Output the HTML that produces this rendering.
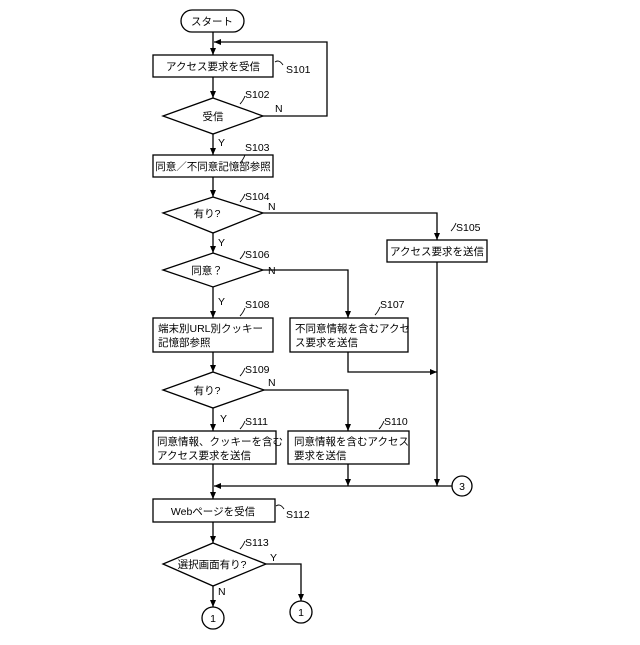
<!DOCTYPE html>
<html><head><meta charset="utf-8"><style>body{margin:0;background:#fff}</style></head><body>
<svg width="640" height="640" xmlns="http://www.w3.org/2000/svg" font-family="Liberation Sans, Noto Sans CJK JP, sans-serif" font-size="10.5">
<defs><marker id="a" markerWidth="8" markerHeight="8" refX="7" refY="4" orient="auto" markerUnits="userSpaceOnUse"><path d="M0,1 L7,4 L0,7 Z" fill="#000"/></marker></defs>
<g fill="none" stroke="#000" stroke-width="1.3">
<rect x="181" y="10" width="63" height="22" rx="11"/>
<rect x="153" y="55" width="120" height="22"/>
<polygon points="213,98 263,116 213,134 163,116"/>
<rect x="153" y="155" width="120" height="22"/>
<polygon points="213,197 263,213 213,233 163,213"/>
<rect x="387" y="240" width="100" height="22"/>
<polygon points="213,253 263,270 213,287 163,270"/>
<rect x="153" y="318" width="120" height="34"/>
<rect x="290" y="318" width="118" height="34"/>
<polygon points="213,372 264,390 213,408 163,390"/>
<rect x="153" y="431" width="123" height="33"/>
<rect x="288" y="431" width="121" height="33"/>
<circle cx="462" cy="486" r="10"/>
<rect x="153" y="499" width="122" height="23"/>
<polygon points="213,543 266,564 213,586 163,564"/>
<circle cx="213" cy="618" r="11"/>
<circle cx="301" cy="612" r="11"/>
<line x1="213" y1="32" x2="213" y2="55" marker-end="url(#a)"/>
<polyline points="263,116 327,116 327,42 214,42" marker-end="url(#a)"/>
<line x1="213" y1="77" x2="213" y2="98" marker-end="url(#a)"/>
<line x1="213" y1="134" x2="213" y2="155" marker-end="url(#a)"/>
<line x1="213" y1="177" x2="213" y2="197" marker-end="url(#a)"/>
<polyline points="263,213 437,213 437,240" marker-end="url(#a)"/>
<line x1="213" y1="233" x2="213" y2="253" marker-end="url(#a)"/>
<polyline points="263,270 348,270 348,318" marker-end="url(#a)"/>
<line x1="213" y1="287" x2="213" y2="318" marker-end="url(#a)"/>
<line x1="213" y1="352" x2="213" y2="372" marker-end="url(#a)"/>
<polyline points="348,352 348,372 437,372" marker-end="url(#a)"/>
<polyline points="263,390 348,390 348,431" marker-end="url(#a)"/>
<line x1="213" y1="408" x2="213" y2="431" marker-end="url(#a)"/>
<line x1="437" y1="262" x2="437" y2="486" marker-end="url(#a)"/>
<line x1="348" y1="464" x2="348" y2="486" marker-end="url(#a)"/>
<line x1="452" y1="486" x2="214" y2="486" marker-end="url(#a)"/>
<line x1="213" y1="464" x2="213" y2="499" marker-end="url(#a)"/>
<line x1="213" y1="522" x2="213" y2="543" marker-end="url(#a)"/>
<line x1="213" y1="586" x2="213" y2="607" marker-end="url(#a)"/>
<polyline points="266,564 301,564 301,601" marker-end="url(#a)"/>
<path d="M275,62 q4,-3 8,3 M240,104 q3,-3 5,-8 M240,163 q3,-3 5,-8 M240,202 q3,-3 5,-8 M451,231 q3,-3 5,-8 M240,259 q3,-3 5,-8 M240,316 q3,-3 5,-8 M375,315 q3,-3 5,-8 M240,376 q3,-3 5,-8 M240,429 q3,-3 5,-8 M379,429 q3,-3 5,-8 M276,506 q4,-3 8,3 M240,549 q3,-3 5,-8" stroke-width="0.9"/>
</g>
<g fill="#000">
<text x="212" y="25" text-anchor="middle">スタート</text>
<text x="213" y="70" text-anchor="middle">アクセス要求を受信</text>
<text x="213" y="120" text-anchor="middle">受信</text>
<text x="213" y="170" text-anchor="middle">同意／不同意記憶部参照</text>
<text x="207" y="217" text-anchor="middle">有り?</text>
<text x="437" y="255" text-anchor="middle">アクセス要求を送信</text>
<text x="207" y="274" text-anchor="middle">同意？</text>
<text x="158" y="332">端末別URL別クッキー</text><text x="158" y="346">記憶部参照</text>
<text x="295" y="332">不同意情報を含むアクセ</text><text x="295" y="346">ス要求を送信</text>
<text x="207" y="394" text-anchor="middle">有り?</text>
<text x="157" y="445">同意情報、クッキーを含む</text><text x="157" y="459">アクセス要求を送信</text>
<text x="294" y="445">同意情報を含むアクセス</text><text x="294" y="459">要求を送信</text>
<text x="462" y="490" text-anchor="middle">3</text>
<text x="213" y="515" text-anchor="middle">Webページを受信</text>
<text x="212" y="568" text-anchor="middle">選択画面有り?</text>
<text x="213" y="622" text-anchor="middle">1</text>
<text x="301" y="616" text-anchor="middle">1</text>
<text x="286" y="73">S101</text><text x="245" y="98">S102</text><text x="245" y="151">S103</text>
<text x="245" y="200">S104</text><text x="456" y="231">S105</text><text x="245" y="258">S106</text>
<text x="380" y="308">S107</text><text x="245" y="308">S108</text><text x="245" y="373">S109</text>
<text x="384" y="425">S110</text><text x="245" y="425">S111</text><text x="286" y="518">S112</text><text x="245" y="546">S113</text>
<text x="275" y="112">N</text><text x="218" y="146">Y</text><text x="268" y="210">N</text><text x="218" y="246">Y</text>
<text x="268" y="274">N</text><text x="218" y="305">Y</text><text x="268" y="386">N</text><text x="220" y="422">Y</text>
<text x="270" y="561">Y</text><text x="218" y="595">N</text>
</g>
</svg>
</body></html>
